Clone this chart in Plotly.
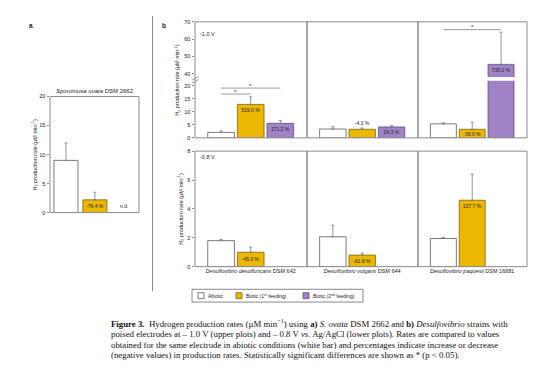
import plotly.graph_objects as go

# page is 554x368, the browser body adds an 8px margin around the plot div
PAGE_W, PAGE_H = 554, 368
OFF = 8
W, H = PAGE_W - OFF, PAGE_H - OFF

# ---------------- data ----------------
series_names = ["Abiotic", "Biotic (1<sup>st</sup> feeding)", "Biotic (2<sup>nd</sup> feeding)"]
strain_labels = ["<i>Desulfovibrio desulfuricans</i> DSM 642",
                 "<i>Desulfovibrio vulgaris</i> DSM 644",
                 "<i>Desulfovibrio paquesii</i> DSM 16681"]
ovata_title = "<i>Sporomusa ovata</i> DSM 2662"

# panel a: Sporomusa ovata DSM 2662 (abiotic, biotic 1st feeding)
ovata_values = [9.0, 2.2]
ovata_errors = [3.0, 1.3]
ovata_labels = ["", "-76.4 %"]
ovata_nd = "n.d."

# panel b, -1.0 V (upper plots), one value per strain
up_abiotic = [2.1, 3.4, 5.4]
up_abiotic_err = [0.6, 0.9, 0.4]
up_bio1 = [12.9, 3.3, 3.3]
up_bio1_err = [2.9, 0.5, 2.7]
up_bio2 = [5.6, 4.2, 45.5]
up_bio2_err = [1.1, 0.6, 18.5]
up_bio1_labels = ["519.0 %", "-4.3 %", "-39.0 %"]
up_bio2_labels = ["171.2 %", "24.3 %", "735.0 %"]

# panel b, -0.8 V (lower plots)
lo_abiotic = [1.8, 2.07, 1.95]
lo_abiotic_err = [0.08, 0.8, 0.08]
lo_bio1 = [1.0, 0.8, 4.6]
lo_bio1_err = [0.35, 0.15, 1.8]
lo_bio1_labels = ["-45.0 %", "-61.8 %", "137.7 %"]

# significance brackets in upper plots
sig_strain = [0, 0, 2]
sig_from = [0, 0, 0]
sig_to = [1, 2, 2]
sig_height = [16.9, 19.2, 65.5]

ovata_ticks = [0, 5, 10, 15, 20]
up_ticks_low = [0, 5, 10, 15, 20]
up_ticks_high = [40, 50, 60, 70]
lo_ticks = [0, 2, 4, 6, 8]

caption_lines = [
    "<b>Figure 3.</b>  Hydrogen production rates (µM min<sup>−1</sup>) using <b>a)</b> <i>S. ovata</i> DSM 2662 and <b>b)</b> <i>Desulfovibrio</i> strains with",
    "poised electrodes at – 1.0 V (upper plots) and – 0.8 V <i>vs.</i> Ag/AgCl (lower plots). Rates are compared to values",
    "obtained for the same electrode in abiotic conditions (white bar) and percentages indicate increase or decrease",
    "(negative values) in production rates. Statistically significant differences are shown as * (p < 0.05).",
]

# ---------------- styles ----------------
FILL = ["#FFFFFF", "#EBB700", "#A082C6"]
EDGE = ["#5a5a5a", "#7d6510", "#5d4a7c"]
FRAME = "#8a8a8a"
SANS = "Liberation Sans, Arial, sans-serif"
SERIF = "Liberation Serif, Times New Roman, serif"
TXT = "#222222"


def px(x):
    return (x - OFF) / W


def py(y):
    return 1 - (y - OFF) / H


fig = go.Figure()
layout = {}
shapes = []
annotations = []

XR_B = [-0.88, 2.9]
XR_A = [-0.55, 2.52]
BW_B = 0.9
BW_A = 0.83

panel_x = [(195, 307), (307, 418), (418, 527)]
UP_LOW_DOM = [py(137), py(79)]
UP_HIGH_DOM = [py(75), py(19)]
UP_LOW_RANGE = [0, 22]
UP_HIGH_RANGE = [38.3, 70]
LO_DOM = [py(268), py(150.5)]
LO_RANGE = [0, 8]


def yax(domain, rng, anchor, ticks=None, color=TXT):
    d = dict(domain=domain, range=rng, anchor=anchor, showgrid=False, zeroline=False,
             showline=False, fixedrange=True)
    if ticks is not None:
        d.update(tickmode="array", tickvals=ticks, ticktext=[str(t) for t in ticks],
                 ticks="outside", ticklen=2.5, ticklabeloverflow="allow",
                 tickwidth=0.8, tickcolor=FRAME, tickfont=dict(size=5.5, color=color, family=SANS))
    else:
        d.update(showticklabels=False, ticks="")
    return d


def xax(domain, rng, anchor, labels=None):
    d = dict(domain=domain, range=rng, anchor=anchor, showgrid=False, zeroline=False,
             showline=False, fixedrange=True, ticks="")
    if labels is not None:
        d.update(tickmode="array", tickvals=labels[0], ticktext=labels[1],
                 tickfont=dict(size=5.5, color=TXT, family=SANS))
    else:
        d.update(showticklabels=False)
    return d


def add_bar(xa, ya, xi, val, err, s, text, anchor, pos="inside", width=BW_B):
    if text:
        kw = dict(text=[text], textposition=pos, insidetextanchor=anchor, constraintext="none",
                  textfont=dict(size=5, color=TXT, family=SANS))
    else:
        kw = dict(textposition="none")
    fig.add_trace(go.Bar(
        x=[xi], y=[val], width=[width], xaxis=xa, yaxis=ya, showlegend=False,
        marker=dict(color=FILL[s], line=dict(color=EDGE[s], width=0.8)),
        error_y=dict(type="data", array=[err], arrayminus=[0], symmetric=False,
                     color="#7a7a7a", thickness=0.8, width=1.5),
        cliponaxis=True, hoverinfo="skip", **kw,
    ))


# ---------- panel a ----------
layout["xaxis"] = xax([px(50), px(139)], XR_A, "y")
layout["yaxis"] = yax([py(213), py(95)], [0, 20], "x", ovata_ticks)
for s in range(len(ovata_values)):
    add_bar("x", "y", s, ovata_values[s], ovata_errors[s], s, ovata_labels[s], "middle", width=BW_A)
annotations.append(dict(x=2, y=0, xref="x", yref="y", text=ovata_nd, showarrow=False,
                        yanchor="bottom", yshift=2, font=dict(size=5, color=TXT, family=SANS)))
annotations.append(dict(x=0.5, y=1, xref="x domain", yref="y domain", text=ovata_title,
                        showarrow=False, yanchor="bottom", yshift=1,
                        font=dict(size=6, color=TXT, family=SANS)))
shapes.append(dict(type="rect", xref="paper", yref="paper", x0=px(50), x1=px(139),
                   y0=py(213), y1=py(95), line=dict(color=FRAME, width=1)))

# ---------- panel b ----------
up_vals = [up_abiotic, up_bio1, up_bio2]
up_errs = [up_abiotic_err, up_bio1_err, up_bio2_err]
up_labels = [["", "", ""], up_bio1_labels, up_bio2_labels]
up_anchor = [["middle"] * 3, ["end", "middle", "middle"], ["end", "middle", "end"]]
up_pos = [["inside"] * 3, ["inside", "outside", "inside"], ["inside"] * 3]

lo_vals = [lo_abiotic, lo_bio1]
lo_errs = [lo_abiotic_err, lo_bio1_err]
lo_labels = [["", "", ""], lo_bio1_labels]
lo_anchor = [["middle"] * 3, ["middle", "middle", "end"]]

for i, (xl, xr) in enumerate(panel_x):
    dom = [px(xl), px(xr)]
    nlow, nhigh, nlo = 2 + i, 5 + i, 8 + i
    xl_low, yl_low = f"x{nlow}", f"y{nlow}"
    xl_high, yl_high = f"x{nhigh}", f"y{nhigh}"
    xl_lo, yl_lo = f"x{nlo}", f"y{nlo}"
    layout[f"xaxis{nlow}"] = xax(dom, XR_B, yl_low)
    layout[f"yaxis{nlow}"] = yax(UP_LOW_DOM, UP_LOW_RANGE, xl_low, up_ticks_low if i == 0 else None)
    layout[f"xaxis{nhigh}"] = xax(dom, XR_B, yl_high)
    layout[f"yaxis{nhigh}"] = yax(UP_HIGH_DOM, UP_HIGH_RANGE, xl_high, up_ticks_high if i == 0 else None)
    layout[f"xaxis{nlo}"] = xax(dom, XR_B, yl_lo, ([1], [strain_labels[i]]))
    layout[f"yaxis{nlo}"] = yax(LO_DOM, LO_RANGE, xl_lo, lo_ticks if i == 0 else None)

    # upper plots (broken axis: low part + high part, each bar drawn in both, clipped)
    for s in range(3):
        v, e = up_vals[s][i], up_errs[s][i]
        tall = v > UP_LOW_RANGE[1]
        add_bar(xl_low, yl_low, s, v, 0 if tall else e, s,
                "" if tall else up_labels[s][i], up_anchor[s][i], up_pos[s][i])
        add_bar(xl_high, yl_high, s, v, e if tall else 0, s,
                up_labels[s][i] if tall else "", up_anchor[s][i], up_pos[s][i])
    # lower plots
    for s in range(2):
        add_bar(xl_lo, yl_lo, s, lo_vals[s][i], lo_errs[s][i], s, lo_labels[s][i], lo_anchor[s][i])

    shapes.append(dict(type="rect", xref="paper", yref="paper", x0=dom[0], x1=dom[1],
                       y0=UP_LOW_DOM[0], y1=UP_HIGH_DOM[1], line=dict(color=FRAME, width=1)))
    shapes.append(dict(type="rect", xref="paper", yref="paper", x0=dom[0], x1=dom[1],
                       y0=LO_DOM[0], y1=LO_DOM[1], line=dict(color=FRAME, width=1)))

# significance brackets
for k in range(len(sig_height)):
    i = sig_strain[k]
    h = sig_height[k]
    n = (5 + i) if h > UP_LOW_RANGE[1] else (2 + i)
    fig.add_trace(go.Scatter(x=[sig_from[k], sig_to[k]], y=[h, h], mode="lines",
                             line=dict(color="#8f8f8f", width=0.9), xaxis=f"x{n}", yaxis=f"y{n}",
                             showlegend=False, hoverinfo="skip"))
    annotations.append(dict(x=(sig_from[k] + sig_to[k]) / 2, y=h, xref=f"x{n}", yref=f"y{n}",
                            text="*", showarrow=False, yanchor="bottom", yshift=-2.5,
                            font=dict(size=6, color=TXT, family=SANS)))

# axis break marks
for yy in (76.5, 79.5):
    shapes.append(dict(type="line", xref="paper", yref="paper", x0=px(192), x1=px(198.5),
                       y0=py(yy + 1.8), y1=py(yy - 1.8), line=dict(color=FRAME, width=0.9)))

# y-axis titles
ytitle = "H<sub>2</sub> production rate (µM·min<sup>-1</sup>)"
for (xx, yy) in ((35, 154), (178, 78), (181, 209)):
    annotations.append(dict(x=px(xx), y=py(yy), xref="paper", yref="paper", text=ytitle,
                            textangle=-90, showarrow=False, xanchor="center", yanchor="middle",
                            font=dict(size=5.5, color=TXT, family=SANS)))

# panel letters, voltage labels
annotations += [
    dict(x=px(27), y=py(17), xref="paper", yref="paper", text="<b>a</b>", showarrow=False,
         font=dict(size=6.5, color=TXT, family=SANS)),
    dict(x=px(160), y=py(17), xref="paper", yref="paper", text="<b>b</b>", showarrow=False,
         font=dict(size=6.5, color=TXT, family=SANS)),
    dict(x=px(198), y=py(26), xref="paper", yref="paper", text="-1.0 V", showarrow=False,
         xanchor="left", font=dict(size=5.5, color=TXT, family=SANS)),
    dict(x=px(198), y=py(156), xref="paper", yref="paper", text="-0.8 V", showarrow=False,
         xanchor="left", font=dict(size=5.5, color=TXT, family=SANS)),
]

# separator between a and b
shapes.append(dict(type="line", xref="paper", yref="paper", x0=px(152.5), x1=px(152.5),
                   y0=py(293), y1=py(13), line=dict(color=FRAME, width=1)))

# custom legend
shapes.append(dict(type="rect", xref="paper", yref="paper", x0=px(192), x1=px(363),
                   y0=py(304), y1=py(291), line=dict(color="#6a6a6a", width=0.8)))
leg_sq = [198, 236, 303]
for s in range(3):
    shapes.append(dict(type="rect", xref="paper", yref="paper", x0=px(leg_sq[s]), x1=px(leg_sq[s] + 6),
                       y0=py(300.5), y1=py(294.5), fillcolor=FILL[s],
                       line=dict(color=EDGE[s], width=0.8)))
    annotations.append(dict(x=px(leg_sq[s] + 8), y=py(297.5), xref="paper", yref="paper",
                            text=series_names[s], showarrow=False, xanchor="left", yanchor="middle",
                            font=dict(size=5, color=TXT, family=SANS)))

# caption
for k, line in enumerate(caption_lines):
    annotations.append(dict(x=px(109), y=py(326 + 10.7 * k), xref="paper", yref="paper",
                            text=line, showarrow=False, xanchor="left", yanchor="middle",
                            font=dict(size=8.8, color="#111111", family=SERIF)))

fig.update_layout(
    width=W, height=H, margin=dict(l=0, r=0, t=0, b=0),
    paper_bgcolor="white", plot_bgcolor="rgba(0,0,0,0)",
    barmode="overlay", showlegend=False,
    font=dict(family=SANS, size=5.5, color=TXT),
    shapes=shapes, annotations=annotations,
    **layout,
)

fig.write_html("out.html")
